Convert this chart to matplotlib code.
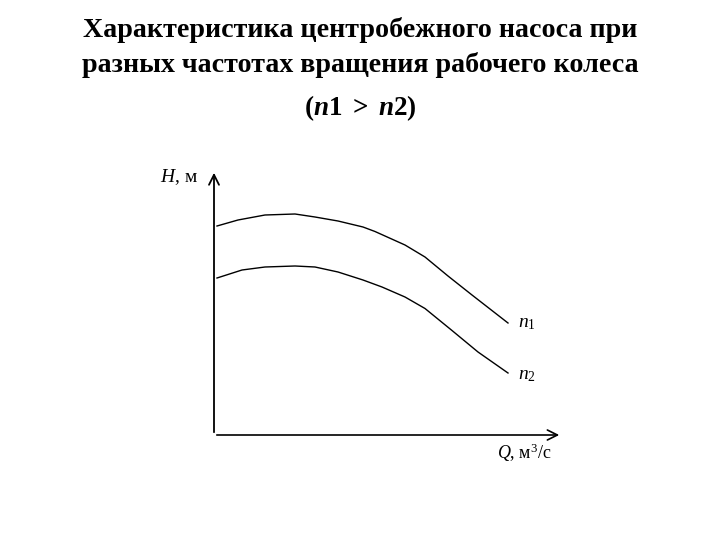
import matplotlib
matplotlib.use('Agg')
import matplotlib.pyplot as plt

plt.rcParams['font.family'] = ['Liberation Serif', 'DejaVu Serif']
plt.rcParams['mathtext.fontset'] = 'custom'
plt.rcParams['mathtext.rm'] = 'Liberation Serif'
plt.rcParams['mathtext.it'] = 'Liberation Serif:italic'
plt.rcParams['mathtext.bf'] = 'Liberation Serif:bold'
plt.rcParams['mathtext.bfit'] = 'Liberation Serif:bold:italic'

# Напорные характеристики (условные единицы)
q_n1 = [0.3, 2.4, 5.1, 8.1, 10.1, 12.4, 14.9, 16.1, 19.1, 21.1, 23.4, 25.8, 29.4]
h_n1 = [20.9, 21.5, 22.0, 22.1, 21.8, 21.4, 20.8, 20.35, 19.0, 17.8, 15.9, 14.0, 11.2]
q_n2 = [0.3, 2.8, 5.1, 8.1, 10.1, 12.4, 14.9, 16.8, 19.1, 21.1, 23.8, 26.4, 29.4]
h_n2 = [15.7, 16.5, 16.8, 16.9, 16.8, 16.3, 15.5, 14.8, 13.8, 12.65, 10.45, 8.3, 6.2]

title_lines = ['Характеристика центробежного насоса при',
               'разных частотах вращения рабочего колеса']

fig = plt.figure(figsize=(7.2, 5.4), dpi=100)
fig.text(0.5, 1 - 30 / 540, title_lines[0], ha='center', va='center',
         fontsize=20.2, fontweight='bold')
fig.text(0.5, 1 - 65 / 540, title_lines[1], ha='center', va='center',
         fontsize=20.2, fontweight='bold')
fig.text(0.5, 1 - 108 / 540, r'$\mathbf{(}\mathbfit{n}\mathbf{1\ >\ }\mathbfit{n}\mathbf{2)}$',
         ha='center', va='center', fontsize=19.5)

ax = fig.add_axes([214 / 720, 105 / 540, 348 / 720, 265 / 540])
ax.set_xlim(0, 34.8)
ax.set_ylim(0, 26.5)
for s in ax.spines.values():
    s.set_visible(False)
ax.set_xticks([])
ax.set_yticks([])

# оси со стрелками
ax.annotate('', xy=(34.8, 0), xytext=(0, 0),
            arrowprops=dict(arrowstyle='->', lw=1.2, color='black', mutation_scale=18),
            annotation_clip=False)
ax.annotate('', xy=(0, 26.5), xytext=(0, 0),
            arrowprops=dict(arrowstyle='->', lw=1.3, color='black', mutation_scale=18),
            annotation_clip=False)

ax.plot(q_n1, h_n1, color='black', lw=1.0)
ax.plot(q_n2, h_n2, color='black', lw=1.0)

ax.text(q_n1[-1] + 1.0, h_n1[-1], r'$n_1$', fontsize=14, va='center', ha='left')
ax.text(q_n2[-1] + 1.0, h_n2[-1] - 0.3, r'$n_2$', fontsize=14, va='center', ha='left')

ax.text(-1.6, 25.8, r'$H$, м', fontsize=14, ha='right', va='center')
ax.text(33.8, -1.8, r'$Q$, м$^3$/с', fontsize=13, ha='right', va='center')

fig.savefig('out.png', dpi=100)
